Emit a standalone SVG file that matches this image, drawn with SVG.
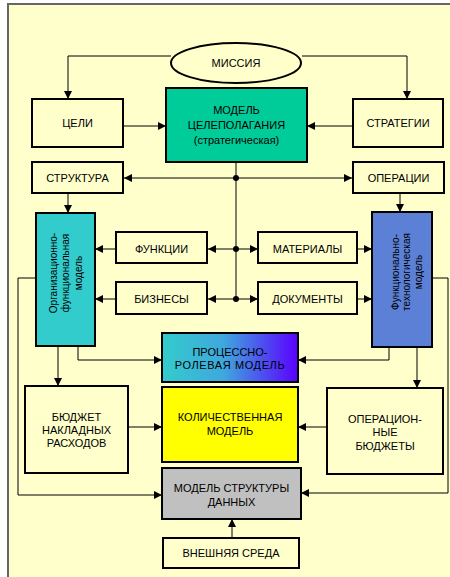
<svg xmlns="http://www.w3.org/2000/svg" width="450" height="577" viewBox="0 0 450 577">
  <style>
    .box { stroke: #000; stroke-width: 2; }
    .plain { fill: #FFFFCC; }
    .lbl { font-family: "Liberation Sans", Arial, sans-serif; font-size: 11px; fill: #000; text-anchor: middle; }
    .vlbl { font-family: "Liberation Sans", Arial, sans-serif; font-size: 10px; fill: #000; text-anchor: middle; }
    .wire { fill: none; stroke: #000; stroke-width: 1; }
  </style>
  <defs>
    <marker id="arrow" markerUnits="userSpaceOnUse" markerWidth="10" markerHeight="10" refX="9" refY="5" orient="auto-start-reverse">
      <path d="M1,1 L9,5 L1,9 Z" fill="#000"/>
    </marker>
    <linearGradient id="procGrad" x1="0" y1="0" x2="1" y2="0">
      <stop offset="0" stop-color="#33CCCC"/>
      <stop offset="0.45" stop-color="#3FA8DD"/>
      <stop offset="1" stop-color="#5A00FF"/>
    </linearGradient>
  </defs>

  <!-- page and frame -->
  <rect x="0" y="0" width="450" height="577" fill="#FFFFFF"/>
  <rect x="8" y="4" width="442" height="573" fill="#FFFFCC"/>
  <path d="M8,577 V4 H450" fill="none" stroke="#666666" stroke-width="2"/>

  <!-- connectors -->
  <g id="connectors">
    <path class="wire" d="M171,56 H68 V99" marker-end="url(#arrow)"/>
    <path class="wire" d="M302,56 H407 V99" marker-end="url(#arrow)"/>
    <path class="wire" d="M123,126 H166" marker-end="url(#arrow)"/>
    <path class="wire" d="M353,126 H307" marker-end="url(#arrow)"/>
    <path class="wire" d="M124,178 H352" marker-start="url(#arrow)" marker-end="url(#arrow)"/>
    <path class="wire" d="M236,162 V299"/>
    <path class="wire" d="M68,194 V213" marker-end="url(#arrow)"/>
    <path class="wire" d="M400,194 V212" marker-end="url(#arrow)"/>
    <path class="wire" d="M208,249 H258" marker-start="url(#arrow)" marker-end="url(#arrow)"/>
    <path class="wire" d="M208,299 H258" marker-start="url(#arrow)" marker-end="url(#arrow)"/>
    <path class="wire" d="M116,249 H95" marker-end="url(#arrow)"/>
    <path class="wire" d="M116,299 H95" marker-end="url(#arrow)"/>
    <path class="wire" d="M357,249 H372" marker-end="url(#arrow)"/>
    <path class="wire" d="M357,299 H372" marker-end="url(#arrow)"/>
    <circle cx="236" cy="178" r="3" fill="#000"/>
    <circle cx="236" cy="249" r="3" fill="#000"/>
    <circle cx="236" cy="299" r="3" fill="#000"/>
    <path class="wire" d="M78,346 V360 H162" marker-end="url(#arrow)"/>
    <path class="wire" d="M389,347 V360 H298" marker-end="url(#arrow)"/>
    <path class="wire" d="M58,346 V386" marker-end="url(#arrow)"/>
    <path class="wire" d="M417,347 V388" marker-end="url(#arrow)"/>
    <path class="wire" d="M128,427 H162" marker-end="url(#arrow)"/>
    <path class="wire" d="M327,427 H298" marker-end="url(#arrow)"/>
    <path class="wire" d="M36,278 H18 V495 H162" marker-end="url(#arrow)"/>
    <path class="wire" d="M432,278 H448 V493 H301" marker-end="url(#arrow)"/>
    <path class="wire" d="M232,538 V519" marker-end="url(#arrow)"/>
  </g>

  <!-- nodes -->
  <g id="mission">
    <ellipse cx="236" cy="63" rx="65" ry="20" fill="#FFFFCC" stroke="#000" stroke-width="2"/>
    <text class="lbl" x="236" y="67">МИССИЯ</text>
  </g>
  <g id="goals">
    <rect class="box plain" x="32" y="99" width="91" height="48"/>
    <text class="lbl" x="77.5" y="127">ЦЕЛИ</text>
  </g>
  <g id="goal-model">
    <rect class="box" x="166" y="88" width="141" height="74" fill="#00CC99"/>
    <text class="lbl" x="236.5" y="114">МОДЕЛЬ</text>
    <text class="lbl" x="236.5" y="129">ЦЕЛЕПОЛАГАНИЯ</text>
    <text class="lbl" x="236.5" y="144">(стратегическая)</text>
  </g>
  <g id="strategies">
    <rect class="box plain" x="353" y="99" width="90" height="48"/>
    <text class="lbl" x="398" y="127">СТРАТЕГИИ</text>
  </g>
  <g id="structure">
    <rect class="box plain" x="32" y="162" width="91" height="31"/>
    <text class="lbl" x="77.5" y="182">СТРУКТУРА</text>
  </g>
  <g id="operations">
    <rect class="box plain" x="353" y="162" width="91" height="31"/>
    <text class="lbl" x="398.5" y="182">ОПЕРАЦИИ</text>
  </g>
  <g id="org-model">
    <rect class="box" x="36" y="213" width="59" height="133" fill="#33CCCC"/>
    <g transform="translate(65.5,273) rotate(-90)">
      <text class="vlbl" x="0" y="-9">Организационно-</text>
      <text class="vlbl" x="0" y="3.5">функциональная</text>
      <text class="vlbl" x="0" y="16">модель</text>
    </g>
  </g>
  <g id="tech-model">
    <rect class="box" x="372" y="212" width="60" height="135" fill="#5B80D5"/>
    <g transform="translate(402,272) rotate(-90)">
      <text class="vlbl" x="0" y="-3.5">Функционально-</text>
      <text class="vlbl" x="0" y="8">технологическая</text>
      <text class="vlbl" x="0" y="19.5">модель</text>
    </g>
  </g>
  <g id="functions">
    <rect class="box plain" x="116" y="232" width="91" height="31"/>
    <text class="lbl" x="161.5" y="253">ФУНКЦИИ</text>
  </g>
  <g id="materials">
    <rect class="box plain" x="258" y="232" width="99" height="31"/>
    <text class="lbl" x="307.5" y="253">МАТЕРИАЛЫ</text>
  </g>
  <g id="businesses">
    <rect class="box plain" x="116" y="282" width="91" height="32"/>
    <text class="lbl" x="161.5" y="303">БИЗНЕСЫ</text>
  </g>
  <g id="documents">
    <rect class="box plain" x="258" y="282" width="99" height="32"/>
    <text class="lbl" x="307.5" y="303">ДОКУМЕНТЫ</text>
  </g>
  <g id="process-model">
    <rect class="box" x="162" y="333" width="136" height="49" fill="url(#procGrad)"/>
    <text class="lbl" x="230" y="356">ПРОЦЕССНО-</text>
    <text class="lbl" x="230" y="369" letter-spacing="0.6">РОЛЕВАЯ  МОДЕЛЬ</text>
  </g>
  <g id="overhead-budget">
    <rect class="box plain" x="25" y="386" width="103" height="87"/>
    <text class="lbl" x="76.5" y="421">БЮДЖЕТ</text>
    <text class="lbl" x="76.5" y="434">НАКЛАДНЫХ</text>
    <text class="lbl" x="76.5" y="447">РАСХОДОВ</text>
  </g>
  <g id="quant-model">
    <rect class="box" x="162" y="387" width="136" height="75" fill="#FFFF00"/>
    <text class="lbl" x="230" y="421">КОЛИЧЕСТВЕННАЯ</text>
    <text class="lbl" x="230" y="435">МОДЕЛЬ</text>
  </g>
  <g id="op-budgets">
    <rect class="box plain" x="327" y="388" width="116" height="86"/>
    <text class="lbl" x="385" y="423">ОПЕРАЦИОН-</text>
    <text class="lbl" x="385" y="436">НЫЕ</text>
    <text class="lbl" x="385" y="450">БЮДЖЕТЫ</text>
  </g>
  <g id="data-model">
    <rect class="box" x="162" y="468" width="139" height="51" fill="#C0C0C0"/>
    <text class="lbl" x="231.5" y="492">МОДЕЛЬ СТРУКТУРЫ</text>
    <text class="lbl" x="231.5" y="506">ДАННЫХ</text>
  </g>
  <g id="environment">
    <rect class="box plain" x="163" y="538" width="136" height="30"/>
    <text class="lbl" x="231" y="557">ВНЕШНЯЯ СРЕДА</text>
  </g>
</svg>
